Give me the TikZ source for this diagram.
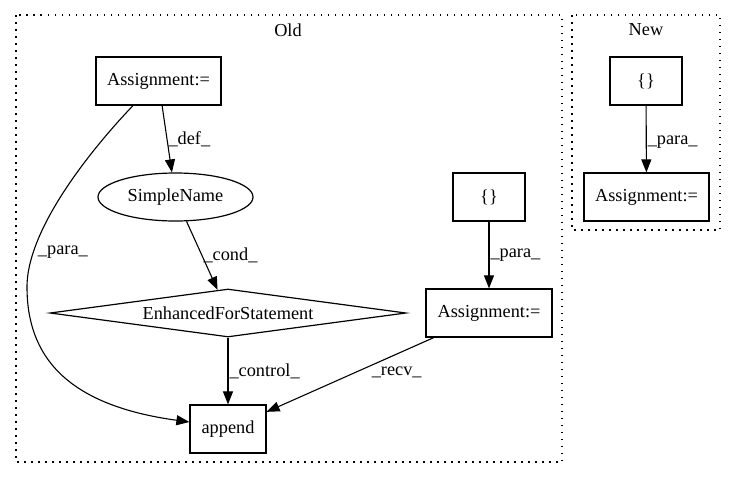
\documentclass[tikz,border=0pt]{standalone}
\usepackage{fontspec}
\setmainfont{Liberation Serif}
\usetikzlibrary{arrows.meta}
\usetikzlibrary{shapes.geometric}
\tikzset{
ast box/.style = { rectangle, draw = black, fill = white, line width = 1.2pt, minimum height = 48pt, inner sep = 0pt },
ast name/.style = { ellipse, draw = black, fill = white, line width = 1.2pt, minimum width = 155pt, minimum height = 48pt, inner sep = 0pt },
ast stmt/.style = { diamond, draw = black, fill = white, line width = 1.2pt, aspect = 7.4, minimum width = 356pt, minimum height = 48pt, inner sep = 0pt },
cluster frame/.style = { draw = black, line width = 1.3pt, dash pattern = on 1.5pt off 5.5pt },
ast edge/.style = { draw = black, line width = 1.1pt, -{Triangle[length = 13pt, width = 10pt]} },
edge label/.style = { black, inner sep = 1pt },
}

\begin{document}
\begin{tikzpicture}[x = 1pt, y = -1pt, font = \fontsize{18.3pt}{21pt}\selectfont]
    \useasboundingbox (0, 0) rectangle (736, 480);
    % clusters
    \draw[cluster frame] (16, 15) rectangle (562, 462);
    \draw[cluster frame] (572, 15) rectangle (720, 230);
    \node (old label) at (288, 30) {Old};
    \node (new label) at (646, 30) {New};
    % old
    \node[ast box, minimum width = 125pt] (assign top) at (158.5, 81) {Assignment:=};
    \node[ast name] (simple name) at (175.5, 197) {SimpleName};
    \node[ast box, minimum width = 72pt] (braces old) at (489, 197) {\{\}};
    \node[ast stmt] (for stmt) at (228, 313) {EnhancedForStatement};
    \node[ast box, minimum width = 126pt] (assign mid) at (489, 313) {Assignment:=};
    \node[ast box, minimum width = 76pt] (append) at (228, 429) {append};
    % new
    \node[ast box, minimum width = 72pt] (braces new) at (646, 81) {\{\}};
    \node[ast box, minimum width = 125pt] (assign new) at (646.5, 197) {Assignment:=};
    % edges
    \draw[ast edge] (assign top) -- (simple name) node[edge label, pos = 0.5, anchor = west] {\_def\_};
    \draw[ast edge] ([xshift = -25.5pt]assign top.south) .. controls (100, 140) and (27, 225) .. (27, 287)
        node[edge label, pos = 0.82, anchor = west, xshift = 3pt] {\_para\_}
        .. controls (27, 355) and (65, 405) .. ([yshift = 7pt]append.west);
    \draw[ast edge] (simple name) -- (for stmt) node[edge label, pos = 0.5, anchor = west] {\_cond\_};
    \draw[ast edge] (for stmt) -- (append) node[edge label, pos = 0.5, anchor = west] {\_control\_};
    \draw[ast edge] (braces old) -- (assign mid) node[edge label, pos = 0.5, anchor = west] {\_para\_};
    \draw[ast edge] (assign mid) -- (append) node[edge label, pos = 0.5, xshift = 46.5pt, yshift = 2.5pt] {\_recv\_};
    \draw[ast edge] (braces new) -- (assign new) node[edge label, pos = 0.55, anchor = west] {\_para\_};
\end{tikzpicture}
\end{document}
